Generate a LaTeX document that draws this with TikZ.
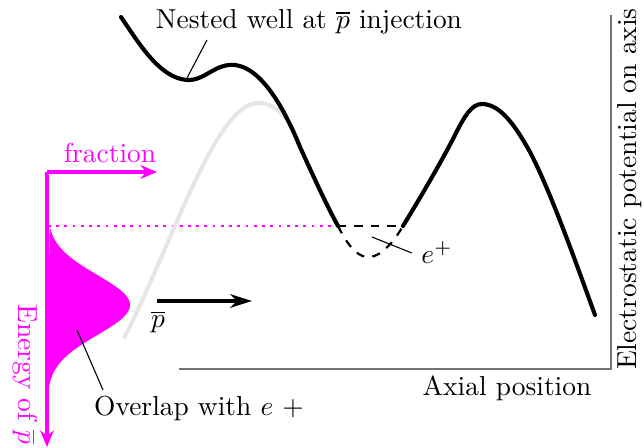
\documentclass[tikz,border=0pt]{standalone}
\definecolor{beammagenta}{RGB}{255, 0, 255}
\definecolor{ghostgray}{RGB}{230, 230, 230}
\usepackage{amsmath, amssymb}
\usepackage{tikz}
\usetikzlibrary{arrows.meta, positioning, calc}

\begin{document}
\begin{tikzpicture}[x=0.0128cm, y=-0.0128cm,
    potcurve/.style={line width=1.5pt, line cap=round},
    ghostcurve/.style={line width=1.5pt, ghostgray},
    wellline/.style={line width=0.8pt, dashed},
    magaxis/.style={line width=1.1pt, beammagenta, -{Stealth[length=6pt, width=5pt]}},
    labelline/.style={line width=0.4pt},
    axisline/.style={line width=0.7pt, black!55}]
                    \useasboundingbox (0,0) rectangle (644,448);

                    % energy distribution of the antiprotons
                    \fill[beammagenta] plot[domain=226:400, samples=90, variable=\t] ({47+83*exp(-((\t-305)/30)^2/2)},\t) -- cycle;
                    \draw[magaxis] (47,172) -- (47,447);
                    \draw[magaxis] (47,172) -- (157,172);
                    \draw[beammagenta, line width=1pt, dotted] (48,226) -- (338,226);
                    \node[beammagenta] (fraction) at (110,153) {fraction};
                    \node[beammagenta, rotate=-90, anchor=west] (energy) at (25,295) {Energy of $\overline{p}$};

                    % potential on axis
                    \draw[ghostcurve] (124,338) .. controls (170,250) and (215,103) .. (258,103) .. controls (280,103) and (292,125) .. (300,147);
                    \draw[potcurve] (121,17) .. controls (140,45) and (160,78) .. (187,80) .. controls (205,81) and (215,63) .. (235,65) .. controls (262,68) and (285,110) .. (300,147) .. controls (315,180) and (328,208) .. (338,226);
                    \draw[potcurve] (403,226) .. controls (425,190) and (445,155) .. (455,135) .. controls (465,115) and (472,104) .. (482,104) .. controls (500,104) and (515,125) .. (530,152) .. controls (550,190) and (575,260) .. (595,315);
                    \draw[wellline] (338,226) -- (403,226);
                    \draw[wellline] (338,226) .. controls (350,250) and (360,258) .. (370,257) .. controls (382,256) and (395,240) .. (403,226);

                    % axes
                    \draw[axisline] (611,15) -- (611,369) -- (179,369);
                    \node (axial) at (507,388) {Axial position};
                    \node[rotate=90] (potential) at (630,189) {Electrostatic potential on axis};

                    % incoming antiprotons
                    \coordinate (pstart) at (157,301);
                    \coordinate (pend) at (252,301);
                    \draw[line width=1.2pt, -{Stealth[length=8pt, width=5pt]}] (pstart) -- (pend);
                    \node (pbar) at (158,322) {$\overline{p}$};

                    % labels
                    \node (nested) at (309,22) {Nested well at $\overline{p}$ injection};
                    \coordinate (nesttip) at (207,40);
                    \coordinate (nestmin) at (187,78);
                    \draw[labelline] (nesttip) -- (nestmin);

                    \node (eplus) at (437,253) {$e^+$};
                    \coordinate (ewell) at (372,237);
                    \draw[labelline] (eplus.west) -- (ewell);

                    \node (overlap) at (199,408) {Overlap with $e$ $+$};
                    \coordinate (ovtip) at (103,390);
                    \coordinate (ovin) at (77,330);
                    \draw[labelline] (ovtip) -- (ovin);
                \end{tikzpicture}
\end{document}
